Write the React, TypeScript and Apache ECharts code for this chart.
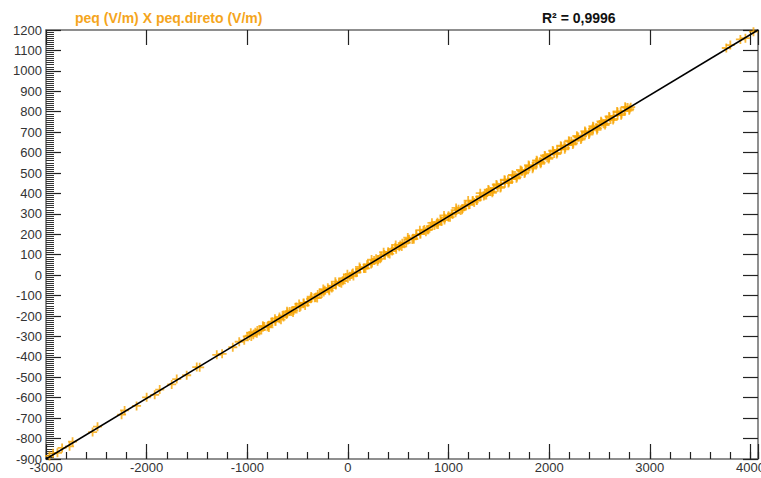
import React, { useEffect, useRef } from "react";
import * as echarts from "echarts";

// Sparse low end (peq.direto, peq)
const lowX = [-2965, -2930, -2886, -2840, -2766, -2736, -2537, -2488, -2249, -2219, -2100, -2000, -1920, -1870, -1751, -1701, -1602, -1502, -1473, -1303, -1250, -1144, -1080, -1030];
const lowY = [-885, -872, -870, -846, -838, -815, -768, -742, -683, -662, -640, -598, -586, -560, -535, -509, -490, -450, -451, -390, -385, -353, -326, -319];

// Dense band
const denseX = [-980, -940, -900, -860, -830, -790, -750, -720, -680, -650, -610, -580, -540, -510, -470, -440, -400, -370, -330, -300, -260, -230, -190, -160, -120, -90, -50, -20, 20, 50, 90, 120, 160, 190, 230, 260, 300, 330, 370, 400, 440, 470, 510, 540, 580, 610, 650, 680, 720, 750, 790, 820, 860, 890, 930, 960, 1000, 1030, 1070, 1100, 1140, 1170, 1210, 1240, 1280, 1310, 1350, 1380, 1420, 1450, 1490, 1520, 1560, 1590, 1630, 1660, 1700, 1730, 1770, 1800, 1840, 1870, 1910, 1940, 1980, 2010, 2050, 2080, 2120, 2150, 2190, 2220, 2260, 2290, 2330, 2360, 2400, 2430, 2470, 2500, 2540, 2570, 2610, 2640, 2680, 2710, 2750, 2780, 2810];
const denseY = [-296, -292, -271, -268, -252, -247, -228, -226, -214, -198, -193, -178, -173, -156, -152, -136, -131, -116, -111, -95, -90, -74, -69, -53, -48, -33, -28, -12, -6, 10, 14, 31, 35, 51, 55, 72, 76, 93, 97, 114, 118, 135, 139, 156, 159, 176, 180, 197, 201, 218, 222, 239, 243, 259, 263, 280, 284, 301, 305, 322, 326, 343, 346, 363, 367, 384, 388, 405, 409, 426, 430, 447, 450, 467, 471, 488, 492, 509, 513, 530, 533, 551, 554, 571, 575, 592, 596, 613, 617, 634, 637, 655, 658, 676, 679, 697, 700, 717, 721, 738, 741, 759, 762, 780, 783, 800, 804, 821, 822];

// Extra points thickening the band
const midX = [-965, -905, -845, -785, -725, -665, -605, -545, -485, -425, -365, -305, -245, -185, -125, -65, -5, 55, 115, 175, 235, 295, 355, 415, 475, 535, 595, 655, 715, 775, 835, 895, 955, 1015, 1075, 1135, 1195, 1255, 1315, 1375];
const midY = [-282, -285, -248, -256, -213, -218, -177, -183, -141, -148, -105, -112, -68, -76, -32, -40, 4, -4, 40, 33, 76, 68, 112, 104, 148, 140, 184, 176, 220, 212, 256, 248, 292, 284, 329, 320, 365, 356, 401, 392];

const fillX = [-1000, -960, -920, -880, -840, -800, -760, -720, -680, -640, -600, -560, -520, -480, -440, -400, -360, -320, -280, -240, -200, -160, -120, -80, -40, 0, 40, 80, 120, 160, 200, 240, 280, 320, 360, 400, 440, 480, 520, 560, 600, 640, 680, 720, 760, 800, 840, 880, 920, 960, 1000, 1040, 1080, 1120, 1160, 1200, 1240, 1280, 1320, 1360, 1400, 1440, 1480, 1520, 1560, 1600, 1640, 1680, 1720, 1760, 1800, 1840, 1880, 1920, 1960, 2000, 2040, 2080, 2120, 2160, 2200, 2240, 2280, 2320, 2360, 2400, 2440, 2480, 2520, 2560, 2600, 2640, 2680, 2720, 2760, 2800];
const fillY = [-300, -300, -279, -273, -252, -253, -231, -226, -205, -205, -184, -178, -157, -158, -137, -131, -110, -110, -89, -83, -62, -63, -42, -36, -15, -15, 6, 12, 33, 32, 53, 59, 80, 80, 101, 107, 128, 127, 148, 154, 175, 175, 196, 202, 223, 222, 243, 249, 270, 270, 291, 297, 318, 317, 338, 344, 365, 365, 386, 392, 416, 409, 440, 432, 464, 456, 488, 480, 511, 504, 535, 528, 559, 551, 583, 575, 606, 599, 630, 623, 654, 646, 678, 670, 701, 694, 725, 718, 749, 742, 773, 765, 797, 789, 820, 813];

const upperX = [1395, 1435, 1475, 1515, 1555, 1595, 1635, 1675, 1715, 1755, 1795, 1835, 1875, 1915, 1955, 1995, 2035, 2075, 2115, 2155, 2195, 2235, 2275, 2315, 2355, 2395, 2435, 2475, 2515, 2555, 2595, 2635, 2675, 2715, 2755, 2795];
const upperY = [419, 403, 444, 427, 467, 451, 491, 474, 515, 498, 539, 521, 562, 545, 586, 569, 610, 593, 634, 616, 658, 640, 682, 664, 705, 688, 729, 711, 753, 735, 777, 759, 801, 783, 824, 807];

// Sparse high end
const highX = [3760, 3800, 3900, 3950, 4030];
const highY = [1112, 1126, 1154, 1160, 1192];

// Regression line endpoints
const fitX = [-3000, 4075];
const fitY = [-900, 1200];

const xMin = -3000;
const xMax = 4075;
const yMin = -900;
const yMax = 1200;

const titleText = "peq (V/m) X peq.direto (V/m)";
const r2Text = "R\u00b2 = 0,9996";

function pairs(xs: number[], ys: number[]) {
  return xs.map((x, i) => [x, ys[i]]);
}

const plusPath = "path://M4,0 H6 V4 H10 V6 H6 V10 H4 V6 H0 V4 H4 Z";
const FONT = "Arial, 'Liberation Sans', sans-serif";

export default function App() {
  const ref = useRef<HTMLDivElement>(null);
  useEffect(() => {
    if (!ref.current) return;
    const chart = echarts.init(ref.current, undefined, { renderer: "svg" });
    const points = [
      ...pairs(lowX, lowY),
      ...pairs(denseX, denseY),
      ...pairs(midX, midY),
      ...pairs(fillX, fillY),
      ...pairs(upperX, upperY),
      ...pairs(highX, highY),
    ];
    const frame = { show: true, onZero: false, lineStyle: { color: "#6a6a6a", width: 1.5 } };
    const tickStyle = { color: "#222", width: 1.2 };
    chart.setOption({
      animation: false,
      backgroundColor: "#fff",
      textStyle: { fontFamily: FONT },
      title: [
        {
          text: titleText,
          left: 70,
          top: 6,
          textStyle: { color: "#F5A51C", fontSize: 14, fontWeight: "bold", fontFamily: FONT },
        },
        {
          text: r2Text,
          left: 537,
          top: 6,
          textStyle: { color: "#111", fontSize: 14, fontWeight: "bold", fontFamily: FONT },
        },
      ],
      grid: { left: 46, right: 3, top: 30, bottom: 19, containLabel: false, outerBoundsMode: "none" },
      xAxis: [
        {
          type: "value",
          position: "bottom",
          min: xMin,
          max: xMax,
          interval: 1000,
          axisLine: frame,
          axisTick: { show: true, inside: true, length: 15, lineStyle: tickStyle },
          axisLabel: {
            margin: 2,
            color: "#333",
            fontSize: 13,
            formatter: (v: number) => (v % 1000 === 0 ? String(v) : ""),
          },
          splitLine: { show: false },
        },
        {
          type: "value",
          position: "top",
          min: xMin,
          max: xMax,
          interval: 1000,
          axisLine: frame,
          axisTick: { show: true, inside: true, length: 15, lineStyle: tickStyle },
          axisLabel: { show: false },
          splitLine: { show: false },
        },
        {
          type: "value",
          position: "bottom",
          min: xMin,
          max: xMax,
          interval: 200,
          axisLine: { show: false, onZero: false },
          axisTick: { show: true, inside: true, length: 7, lineStyle: tickStyle },
          axisLabel: { show: false },
          splitLine: { show: false },
        },
      ],
      yAxis: [
        {
          type: "value",
          position: "left",
          min: yMin,
          max: yMax,
          interval: 100,
          axisLine: frame,
          axisTick: { show: true, inside: true, length: 15, lineStyle: tickStyle },
          minorTick: { show: true, splitNumber: 10, length: 8, lineStyle: { color: "#333", width: 1 } },
          axisLabel: { margin: 4, color: "#333", fontSize: 13, formatter: (v: number) => String(v) },
          splitLine: { show: false },
        },
        {
          type: "value",
          position: "right",
          min: yMin,
          max: yMax,
          interval: 100,
          axisLine: frame,
          axisTick: { show: true, inside: true, length: 15, lineStyle: tickStyle },
          axisLabel: { show: false },
          splitLine: { show: false },
        },
      ],
      series: [
        {
          type: "scatter",
          xAxisIndex: 0,
          yAxisIndex: 0,
          symbol: plusPath,
          symbolSize: 9,
          itemStyle: { color: "#F8A606" },
          data: points,
          z: 2,
          clip: false,
        },
        {
          type: "line",
          xAxisIndex: 0,
          yAxisIndex: 0,
          data: pairs(fitX, fitY),
          symbol: "none",
          lineStyle: { color: "#000", width: 1.5 },
          z: 3,
          silent: true,
        },
      ],
    });
    return () => chart.dispose();
  }, []);
  return (
    <div
      ref={ref}
      style={{ position: "fixed", left: 0, top: 0, width: 761, height: 478, background: "#fff" }}
    />
  );
}
